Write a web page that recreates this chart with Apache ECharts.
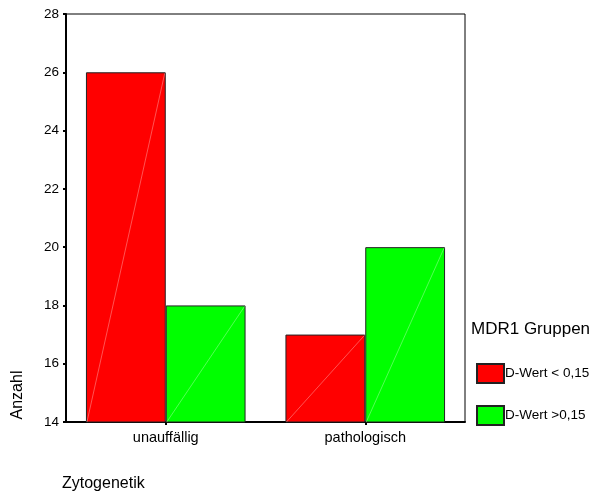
<!DOCTYPE html>
<html><head><meta charset="utf-8">
<script src="https://cdn.jsdelivr.net/npm/echarts@6/dist/echarts.min.js"></script>
<style>html,body{margin:0;padding:0;background:#fff}#c{width:606px;height:494px}</style>
</head><body><div id="c"></div>
<script>
var categories = ['unauffällig', 'pathologisch'];
var seriesNames = ['D-Wert < 0,15', 'D-Wert >0,15'];
var lowValues = [26, 17];
var highValues = [18, 20];
var yMin = 14, yMax = 28, yStep = 2;

var chart = echarts.init(document.getElementById('c'), null, {renderer: 'canvas'});
var font = 'Liberation Sans, Arial, sans-serif';

function diagItem(values, side) {
  return function (params, api) {
    var idx = api.value(0);
    var top = api.coord([idx, api.value(1)]);
    var base = api.coord([idx, yMin]);
    var w = api.size([1, 0])[0] * 0.4;
    var x0 = side === 0 ? top[0] - w : top[0];
    var x1 = side === 0 ? top[0] : top[0] + w;
    return {type: 'line', shape: {x1: x0 + 1, y1: base[1], x2: x1 - 1, y2: top[1] + 1},
      style: {stroke: 'rgba(255,255,255,0.55)', lineWidth: 0.6}, silent: true};
  };
}

chart.setOption({
  animation: false,
  backgroundColor: '#fff',
  grid: {left: 66, right: 141, top: 14, bottom: 72, show: true, borderColor: '#000', borderWidth: 1, backgroundColor: 'transparent'},
  title: {text: 'MDR1 Gruppen', left: 471, top: 321, padding: 0, textStyle: {fontFamily: font, fontSize: 17, fontWeight: 'normal', color: '#000'}},
  legend: {
    orient: 'vertical', left: 476, top: 363, padding: 0, itemWidth: 27, itemHeight: 19, itemGap: 21,
    icon: 'rect',
    textStyle: {fontFamily: font, fontSize: 13.5, color: '#000', padding: [0, 0, 0, -4]},
    data: seriesNames
  },
  xAxis: {
    type: 'category', data: categories,
    axisLine: {lineStyle: {color: '#000', width: 2}},
    axisTick: {show: true, alignWithLabel: true, length: 3, lineStyle: {color: '#000', width: 2}},
    axisLabel: {fontFamily: font, fontSize: 14.5, color: '#000', margin: 8}
  },
  yAxis: {
    type: 'value', min: yMin, max: yMax, interval: yStep,
    splitLine: {show: false},
    axisLine: {show: true, lineStyle: {color: '#000', width: 2}},
    axisTick: {show: true, length: 3, lineStyle: {color: '#000', width: 2}},
    axisLabel: {fontFamily: font, fontSize: 13.5, color: '#000', margin: 7}
  },
  series: [
    {name: seriesNames[0], type: 'bar', data: lowValues, barGap: '0%', barCategoryGap: '20%',
     itemStyle: {color: '#ff0000', borderColor: '#222', borderWidth: 1}},
    {name: seriesNames[1], type: 'bar', data: highValues,
     itemStyle: {color: '#00ff00', borderColor: '#222', borderWidth: 1}},
    {type: 'custom', renderItem: diagItem(lowValues, 0), data: lowValues.map(function (v, i) { return [i, v]; }), z: 5, silent: true},
    {type: 'custom', renderItem: diagItem(highValues, 1), data: highValues.map(function (v, i) { return [i, v]; }), z: 5, silent: true}
  ],
  graphic: [
    {type: 'text', x: 18, y: 395, rotation: Math.PI / 2,
     style: {text: 'Anzahl', font: '16px ' + font, fill: '#000', align: 'center', verticalAlign: 'middle'}},
    {type: 'text', left: 62, top: 476,
     style: {text: 'Zytogenetik', font: '16px ' + font, fill: '#000'}}
  ]
});
</script></body></html>
